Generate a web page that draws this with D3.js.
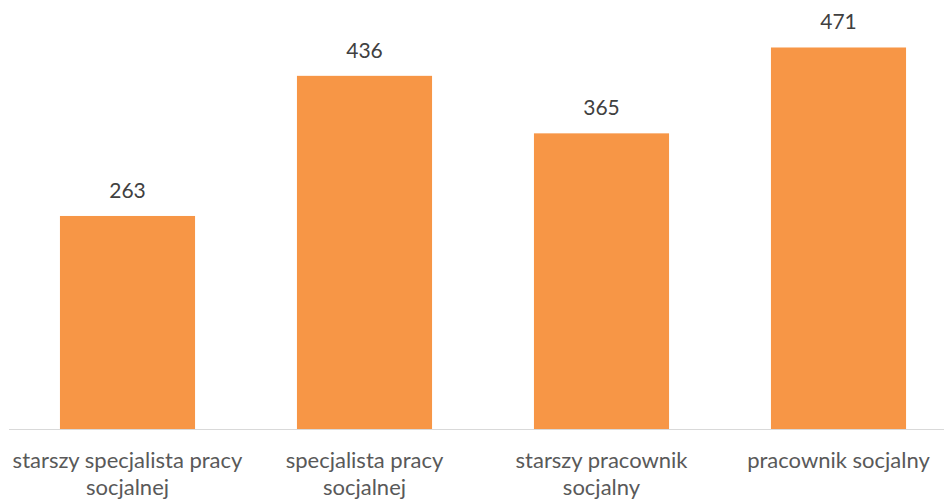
<!DOCTYPE html>
<html><head><meta charset="utf-8">
<script src="https://cdn.jsdelivr.net/npm/d3@7"></script>
<style>body{margin:0;background:#fff;} text{font-family:Lato,"Open Sans",sans-serif;}</style>
</head><body>
<svg id="chart" width="944" height="499"></svg>
<script>
const categories = ["starszy specjalista pracy socjalnej", "specjalista pracy socjalnej", "starszy pracownik socjalny", "pracownik socjalny"];
const values = [263, 436, 365, 471];

const svg = d3.select("#chart");
const baseY = 429;
const x = d3.scaleBand().domain(categories).range([9, 957]).paddingInner(0.43).paddingOuter(0.215);
const y = d3.scaleLinear().domain([0, 500]).range([baseY, 24]);

svg.append("g").selectAll("rect").data(categories).join("rect")
  .attr("x", d => x(d)).attr("width", x.bandwidth())
  .attr("y", (d, i) => y(values[i])).attr("height", (d, i) => baseY - y(values[i]))
  .attr("fill", "#F79646");

svg.append("line").attr("x1", 9).attr("x2", 944).attr("y1", baseY + 0.5).attr("y2", baseY + 0.5)
  .attr("stroke", "#D9D9D9").attr("stroke-width", 1);

svg.append("g").selectAll("text").data(categories).join("text")
  .attr("x", d => x(d) + x.bandwidth() / 2)
  .attr("y", (d, i) => y(values[i]) - 18)
  .attr("text-anchor", "middle").attr("font-size", 21).attr("fill", "#404040")
  .text((d, i) => values[i]);

const labels = svg.append("g").selectAll("text").data(categories).join("text")
  .attr("text-anchor", "middle").attr("font-size", 22).attr("fill", "#595959")
  .attr("x", d => x(d) + x.bandwidth() / 2).attr("y", 468);

const maxW = x.step() - 2;
labels.each(function(d) {
  const t = d3.select(this);
  const words = d.split(" ");
  const cx = +t.attr("x");
  let line = [];
  let ts = t.append("tspan").attr("x", cx).attr("dy", 0);
  for (const w of words) {
    line.push(w);
    ts.text(line.join(" "));
    if (ts.node().getComputedTextLength() > maxW && line.length > 1) {
      line.pop();
      ts.text(line.join(" "));
      line = [w];
      ts = t.append("tspan").attr("x", cx).attr("dy", 27).text(w);
    }
  }
});
</script>
</body></html>
